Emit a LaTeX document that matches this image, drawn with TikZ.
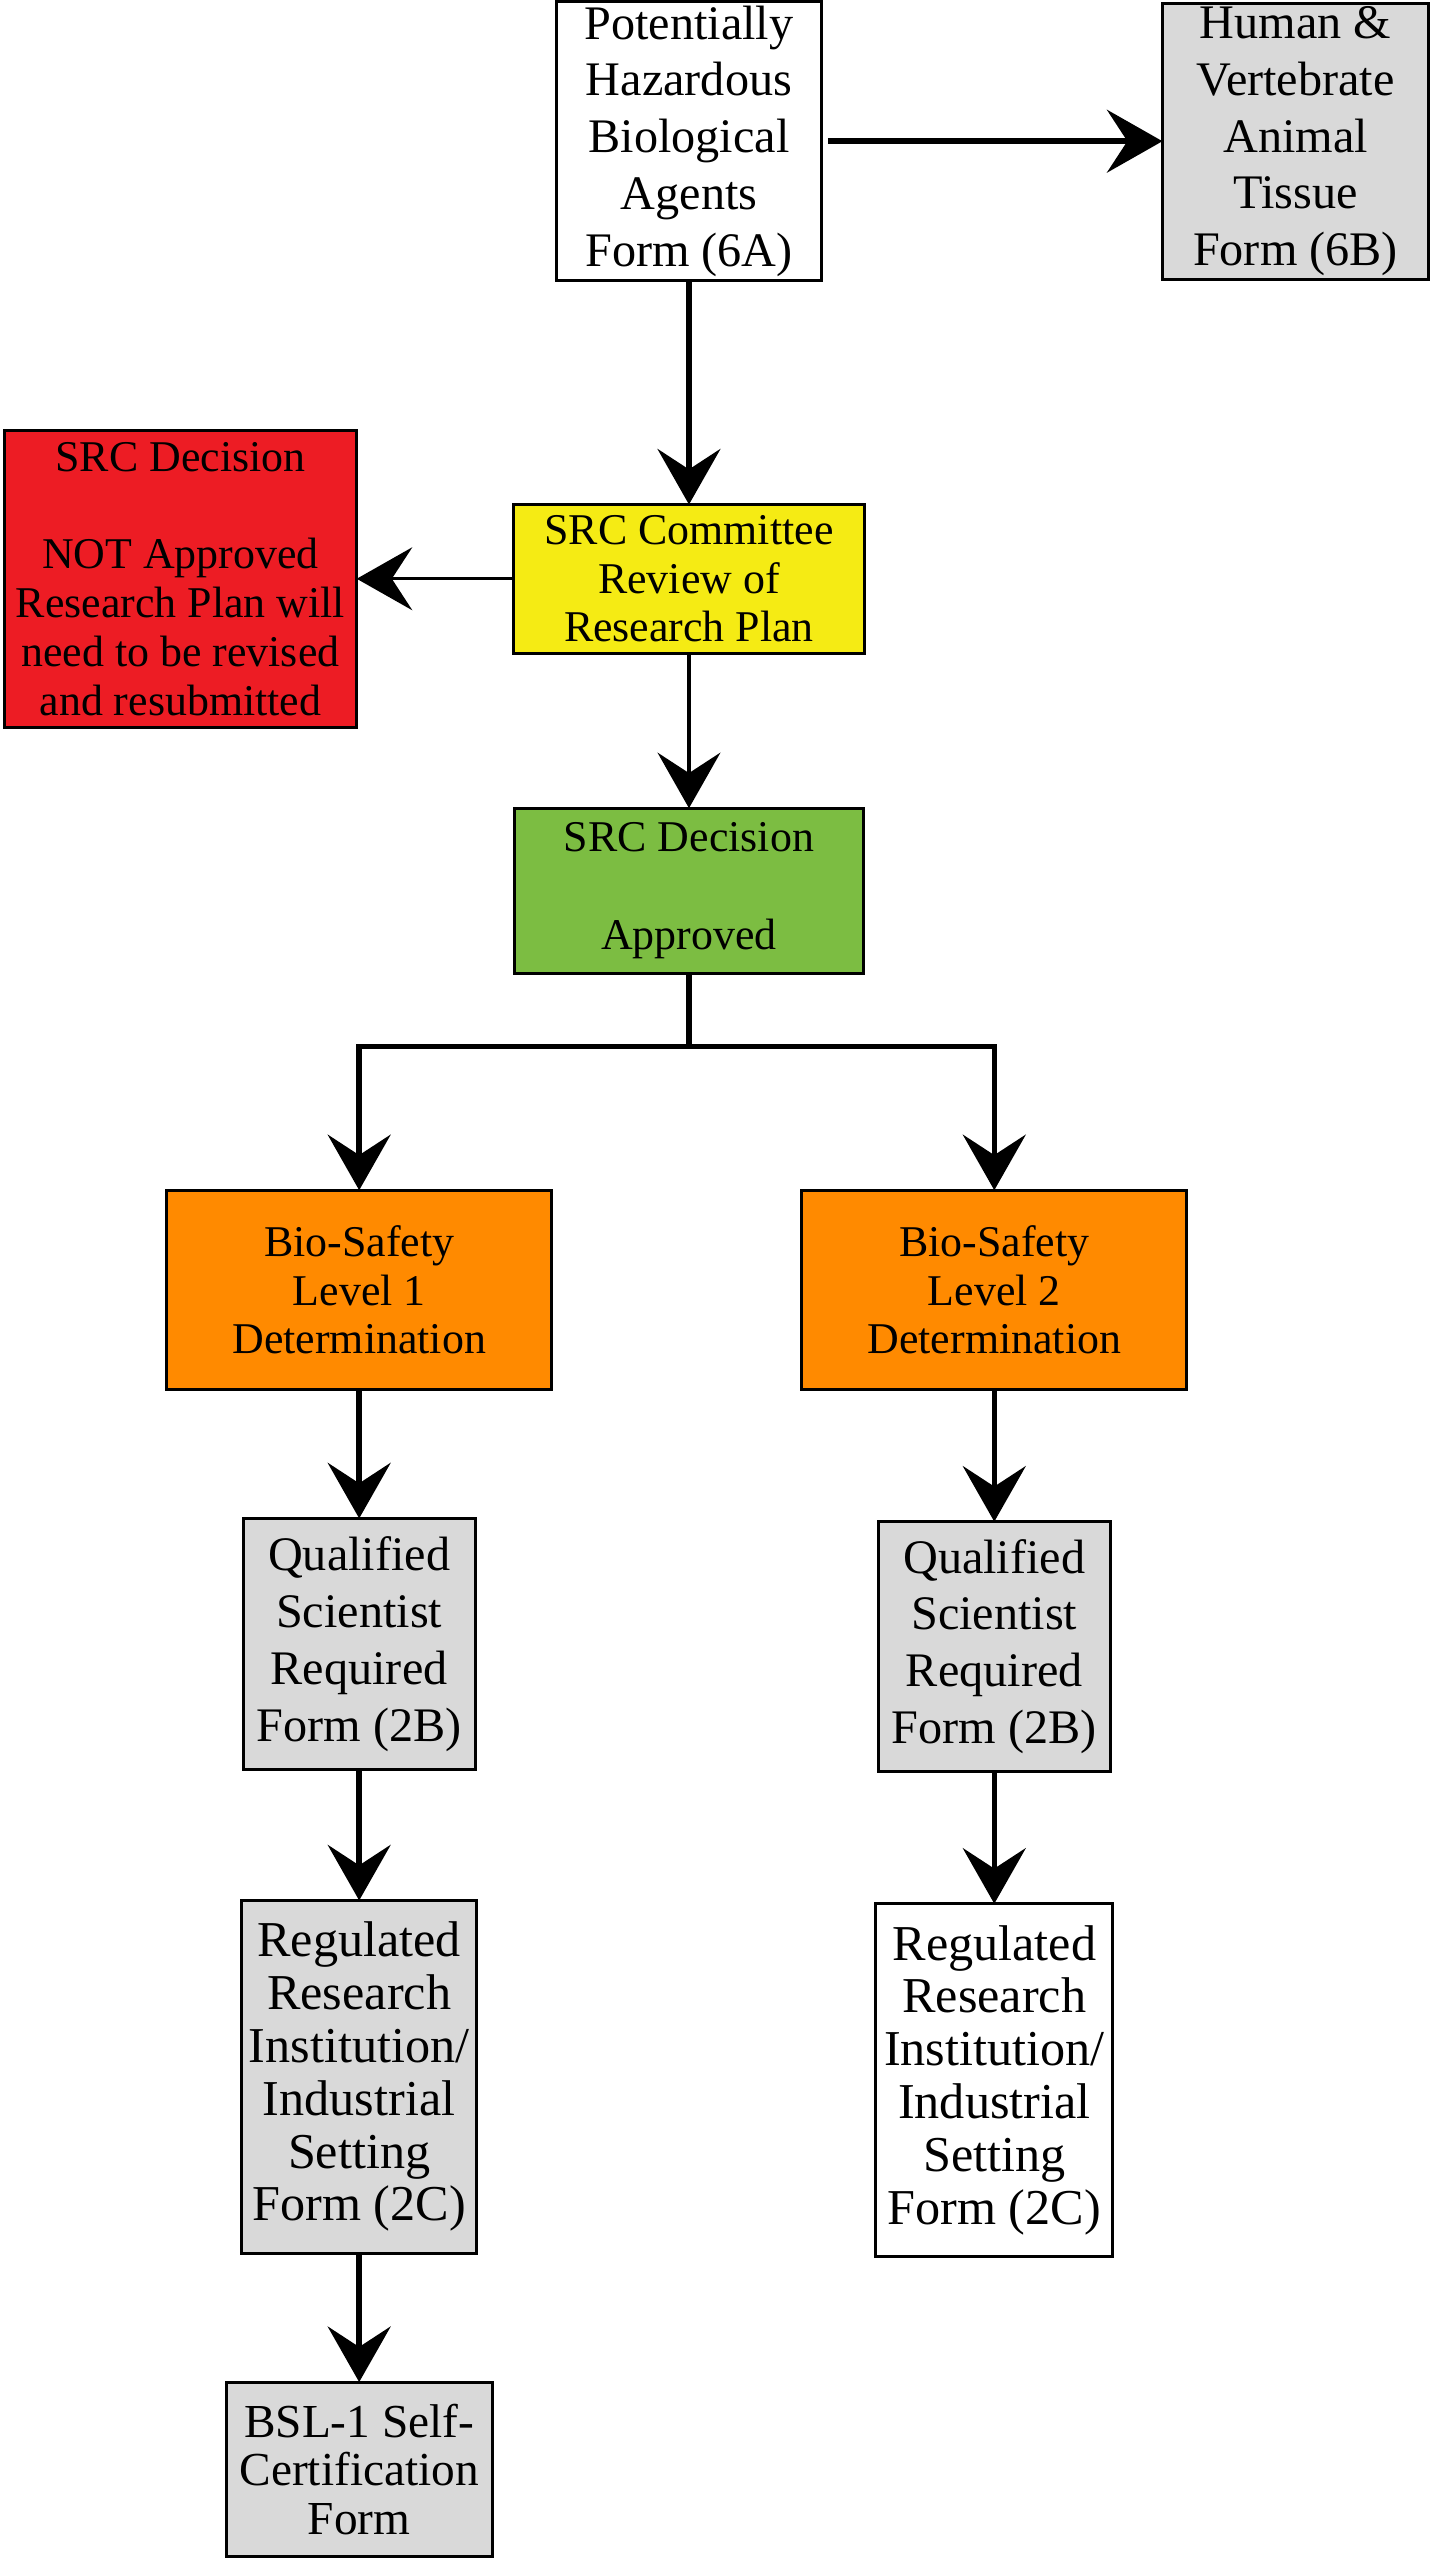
\documentclass[tikz,border=0pt]{standalone}
\usepackage{fontspec}
\setmainfont{Liberation Serif}
\usepackage{tikz}
\usetikzlibrary{arrows.meta,positioning}

\definecolor{decisionred}{RGB}{237,28,36}
\definecolor{reviewyellow}{RGB}{245,235,20}
\definecolor{approvedgreen}{RGB}{124,189,66}
\definecolor{levelorange}{RGB}{255,138,0}
\definecolor{formgray}{RGB}{217,217,217}

\begin{document}
\begin{tikzpicture}[
        box/.style={draw,line width=1.05pt,inner sep=0pt,outer sep=0pt,align=center},
        bigtext/.style={font=\fontsize{16.8}{19.8}\selectfont},
        smalltext/.style={font=\fontsize{15.3}{17}\selectfont},
        flow/.style={-{Stealth[length=6.8mm,width=7.7mm,inset=2.5mm]},line width=1.9pt},
        thinflow/.style={flow,line width=1.1pt}]
        \useasboundingbox (-8.44,1.73) rectangle (9.08,-29.63);
        % top row
        \node[box,bigtext,minimum width=3.24cm,minimum height=3.42cm] (hazardform) {Potentially\\Hazardous\\Biological\\Agents\\Form (6A)};
        \node[box,bigtext,fill=formgray,minimum width=3.26cm,minimum height=3.38cm,right = 4.18cm of hazardform] (tissueform) {Human \&\\Vertebrate\\Animal\\Tissue\\Form (6B)};
        % review and decisions
        \node[box,smalltext,fill=reviewyellow,minimum width=4.3cm,minimum height=1.82cm,below = 2.74cm of hazardform] (committeereview) {SRC Committee\\Review of\\Research Plan};
        \node[box,smalltext,fill=decisionred,minimum width=4.32cm,minimum height=3.64cm,left = 1.92cm of committeereview] (notapproved) {SRC Decision\\[17pt]NOT Approved\\Research Plan will\\need to be revised\\and resubmitted};
        \node[box,smalltext,fill=approvedgreen,minimum width=4.28cm,minimum height=2.02cm,below = 1.9cm of committeereview] (approved) {SRC Decision\\[17pt]Approved};
        \coordinate[below = 0.9cm of approved.south] (split);
        % bio-safety levels
        \node[box,smalltext,fill=levelorange,minimum width=4.72cm,minimum height=2.44cm,below = 2.66cm of approved,xshift=-4.04cm] (levelone) {Bio-Safety\\Level 1\\Determination};
        \node[box,smalltext,fill=levelorange,minimum width=4.72cm,minimum height=2.44cm,right = 3.06cm of levelone] (leveltwo) {Bio-Safety\\Level 2\\Determination};
        % forms
        \node[box,bigtext,fill=formgray,minimum width=2.84cm,minimum height=3.08cm,below = 1.58cm of levelone] (scientistone) {Qualified\\Scientist\\Required\\Form (2B)};
        \node[box,bigtext,fill=formgray,minimum width=2.84cm,minimum height=3.06cm,below = 1.62cm of leveltwo] (scientisttwo) {Qualified\\Scientist\\Required\\Form (2B)};
        \node[box,font=\fontsize{17.5}{18.4}\selectfont,fill=formgray,minimum width=2.88cm,minimum height=4.32cm,below = 1.6cm of scientistone] (institutionone) {Regulated\\Research\\Institution/\\Industrial\\Setting\\Form (2C)};
        \node[box,font=\fontsize{17.5}{18.4}\selectfont,minimum width=2.9cm,minimum height=4.32cm,below = 1.62cm of scientisttwo] (institutiontwo) {Regulated\\Research\\Institution/\\Industrial\\Setting\\Form (2C)};
        \node[box,font=\fontsize{16.5}{17}\selectfont,fill=formgray,minimum width=3.26cm,minimum height=2.14cm,below = 1.58cm of institutionone] (selfcert) {BSL-1 Self-\\Certification\\Form};
        % connectors
        \draw[flow,shorten <=0.08cm] (hazardform) -- (tissueform);
        \draw[flow] (hazardform) -- (committeereview);
        \draw[thinflow] (committeereview) -- (notapproved);
        \draw[thinflow] (committeereview) -- (approved);
        \draw[line width=1.9pt] (approved) -- (split);
        \draw[flow] (split) -| (levelone);
        \draw[flow] (split) -| (leveltwo);
        \draw[flow] (levelone) -- (scientistone);
        \draw[flow] (leveltwo) -- (scientisttwo);
        \draw[flow] (scientistone) -- (institutionone);
        \draw[flow] (scientisttwo) -- (institutiontwo);
        \draw[flow] (institutionone) -- (selfcert);
\end{tikzpicture}
\end{document}
